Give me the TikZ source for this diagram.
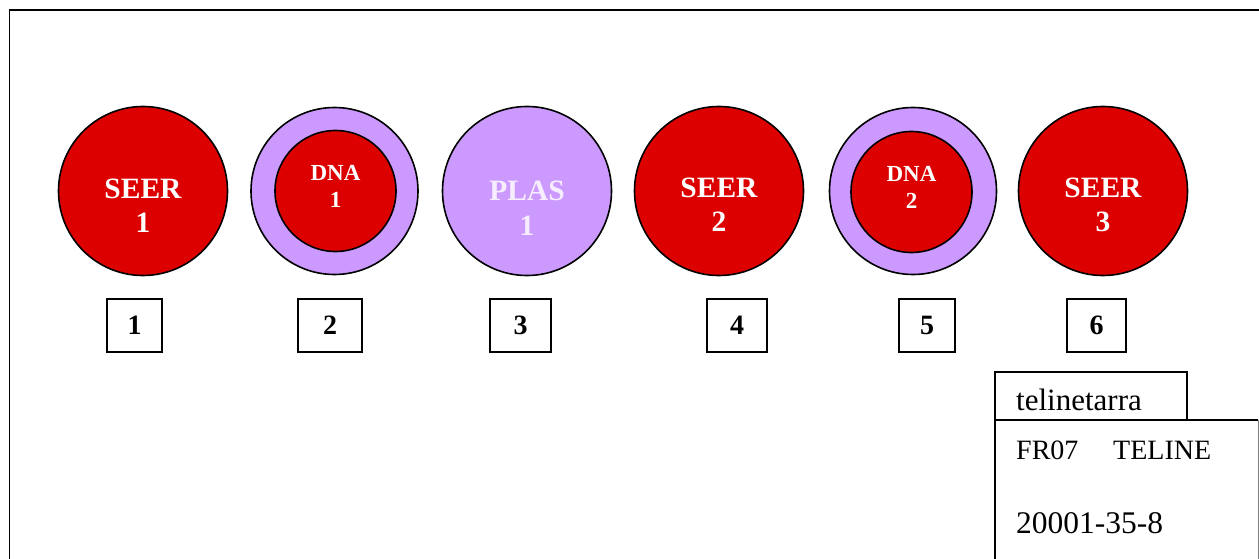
\documentclass[tikz,border=0pt]{standalone}
\usepackage{fontspec}
\setmainfont{Liberation Serif}
\definecolor{cellred}{HTML}{DD0000}
\definecolor{lilac}{HTML}{CC99FF}
\definecolor{paletext}{HTML}{F6EEFF}
\begin{document}
\begin{tikzpicture}[x=1pt,y=-1pt,
  disc/.style={circle,draw=black,line width=1.6pt,inner sep=0pt},
  reddisc/.style={disc,fill=cellred},
  lilacdisc/.style={disc,fill=lilac},
  biglbl/.style={align=center,text=white,inner sep=0pt,
    font=\fontsize{29.5}{33.5}\selectfont\bfseries},
  smalllbl/.style={align=center,text=white,inner sep=0pt,
    font=\fontsize{23}{27}\selectfont\bfseries},
  numbox/.style={draw=black,line width=1.3pt,inner sep=0pt,minimum height=53pt,
    font=\fontsize{28}{30}\selectfont\bfseries},
  plain/.style={inner sep=0pt,anchor=base west},
  frameline/.style={draw=black,line width=1.8pt},
  tagline/.style={draw=black,line width=1.3pt}]
\useasboundingbox (0,0) rectangle (1259,559);

% outer frame, open to the right and below
\draw[frameline] (9.5,600) -- (9.5,10) -- (1300,10);

% row of discs
\node[reddisc,minimum size=169pt] (c1) at (143,191) {};
\node[lilacdisc,minimum size=167pt] (c2) at (334.5,191) {};
\node[reddisc,minimum size=121pt] (c2i) at (335.5,191) {};
\node[lilacdisc,minimum size=169pt] (c3) at (527,191) {};
\node[reddisc,minimum size=169pt] (c4) at (719,191) {};
\node[lilacdisc,minimum size=167pt] (c5) at (913,191) {};
\node[reddisc,minimum size=121pt] (c5i) at (911.5,192) {};
\node[reddisc,minimum size=169pt] (c6) at (1103,191) {};

% disc captions
\node[biglbl,anchor=north] (t1) at ([yshift=12pt]c1.center) {SEER\\1};
\node[smalllbl,anchor=north] (t2) at ([yshift=26pt]c2i.center) {DNA\\1};
\node[biglbl,anchor=north,text=paletext,
  font=\fontsize{29.5}{35}\selectfont\bfseries] (t3) at ([yshift=10pt]c3.center) {PLAS\\1};
\node[biglbl,anchor=north] (t4) at ([yshift=13pt]c4.center) {SEER\\2};
\node[smalllbl,anchor=north] (t5) at ([yshift=26pt]c5i.center) {DNA\\2};
\node[biglbl,anchor=north] (t6) at ([yshift=13pt]c6.center) {SEER\\3};

% numbered boxes
\node[numbox,minimum width=55pt] (n1) at (134.5,325.5) {1};
\node[numbox,minimum width=64pt] (n2) at (330,325.5) {2};
\node[numbox,minimum width=61pt] (n3) at (520.5,325.5) {3};
\node[numbox,minimum width=60pt] (n4) at (737,325.5) {4};
\node[numbox,minimum width=56pt] (n5) at (927,325.5) {5};
\node[numbox,minimum width=59pt] (n6) at (1096.5,325.5) {6};

% title block
\draw[tagline] (995,420) -- (995,372) -- (1187,372) -- (1187,420);
\draw[tagline] (995,600) -- (995,420) -- (1258,420);
\draw[draw=gray,line width=0.8pt] (1258,420) -- (1258,600);
\node[plain,font=\fontsize{31}{33}\selectfont] (tg) at (1016,410) {telinetarra};
\node[plain,font=\fontsize{28}{30}\selectfont] (fr) at (1016,459) {FR07};
\node[plain,font=\fontsize{28}{30}\selectfont] (tl) at (1113,459) {TELINE};
\node[plain,font=\fontsize{31.5}{33}\selectfont] (cd) at (1016,533) {20001-35-8};
\end{tikzpicture}
\end{document}
